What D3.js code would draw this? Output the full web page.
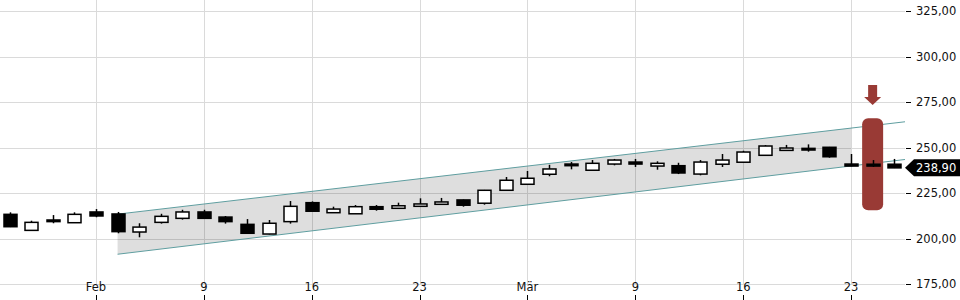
<!DOCTYPE html>
<html>
<head>
<meta charset="utf-8">
<script src="https://cdn.jsdelivr.net/npm/d3@7"></script>
<style>
body { margin: 0; background: #fff; }
svg { display: block; font-family: "DejaVu Sans", sans-serif; }
</style>
</head>
<body>
<svg id="chart" width="960" height="300"></svg>
<script>
// trading days
var dates = ['2015-01-27','2015-01-28','2015-01-29','2015-01-30',
    '2015-02-02','2015-02-03','2015-02-04','2015-02-05','2015-02-06',
    '2015-02-09','2015-02-10','2015-02-11','2015-02-12','2015-02-13',
    '2015-02-16','2015-02-17','2015-02-18','2015-02-19','2015-02-20',
    '2015-02-23','2015-02-24','2015-02-25','2015-02-26','2015-02-27',
    '2015-03-02','2015-03-03','2015-03-04','2015-03-05','2015-03-06',
    '2015-03-09','2015-03-10','2015-03-11','2015-03-12','2015-03-13',
    '2015-03-16','2015-03-17','2015-03-18','2015-03-19','2015-03-20',
    '2015-03-23','2015-03-24','2015-03-25'];
var open  = [213.4,204.6,210.3,208.8,214.7,213.6,203.7,209.0,211.2,214.7,211.9,207.9,202.6,209.4,219.8,214.3,213.7,217.6,216.7,217.8,218.9,
             221.3,219.5,226.6,229.9,235.4,241.0,237.6,241.0,242.1,239.9,240.1,235.5,240.9,242.0,245.8,248.5,249.6,250.2,241.0,240.9,240.9];
var high  = [214.5,209.9,213.0,214.5,216.3,214.7,208.5,213.7,215.9,215.9,212.5,210.8,210.3,220.7,220.5,217.6,218.5,218.5,219.8,222.2,222.4,
             221.5,226.8,233.9,237.2,240.6,242.1,243.2,243.8,243.8,242.5,241.7,243.2,246.5,248.3,251.4,251.5,251.8,250.4,246.5,243.2,243.8];
var low   = [206.4,204.5,208.5,208.7,211.8,203.0,200.8,208.3,210.5,211.0,208.3,202.8,202.4,208.3,215.0,214.2,213.6,215.4,216.6,217.7,218.8,
             217.6,218.7,226.5,229.8,234.3,238.1,237.5,240.3,239.4,237.9,235.5,234.8,239.4,241.9,245.7,248.4,247.8,244.5,239.8,239.4,238.8];
var close = [206.6,209.0,209.4,213.4,212.5,203.9,206.4,212.3,214.7,211.2,209.4,203.0,208.5,217.8,215.1,216.3,217.6,216.2,218.1,219.1,220.2,
             218.4,226.6,232.1,233.2,238.3,240.1,241.4,243.2,241.0,241.4,236.1,242.1,243.2,247.6,250.9,249.8,248.7,245.0,239.9,239.9,238.9];

var yTicks = [175, 200, 225, 250, 275, 300, 325];
var xTickIdx = [4, 9, 14, 19, 24, 29, 34, 39];
var xTickLabels = ['Feb', '9', '16', '23', 'Mär', '9', '16', '23'];

// trend channel (index, value)
var channelIdx = [5, 41.5];
var channelTop = [213.5, 264.2];
var channelBottom = [191.5, 243.5];
var channelFillEnd = 39;

// signal marker
var markerIdx = 40;
var markerRange = [215.7, 266.2];
var arrowRange = [273.4, 284.4];
var lastPrice = 238.90;

var fmt = function (v) { return v.toFixed(2).replace('.', ','); };

var plotRight = 905;
var x = d3.scaleLinear().domain([-0.45, 41.5]).range([0, plotRight]);
var y = d3.scaleLinear().domain([175, 325]).range([284.3, 11]);

var svg = d3.select('#chart');

// grid
var grid = svg.append('g');
grid.selectAll('.hg').data(yTicks).enter().append('line')
    .attr('x1', 0).attr('x2', plotRight)
    .attr('y1', function(d){ return Math.round(y(d)) + 0.5; })
    .attr('y2', function(d){ return Math.round(y(d)) + 0.5; })
    .attr('stroke', '#dadada').attr('stroke-width', 1);
grid.selectAll('.vg').data(xTickIdx).enter().append('line')
    .attr('x1', function(d){ return Math.round(x(d)) + 0.5; })
    .attr('x2', function(d){ return Math.round(x(d)) + 0.5; })
    .attr('y1', 0).attr('y2', 285)
    .attr('stroke', '#dadada').attr('stroke-width', 1);

// channel
var lineAt = function (vals, i) {
    var t = (i - channelIdx[0]) / (channelIdx[1] - channelIdx[0]);
    return vals[0] + t * (vals[1] - vals[0]);
};
var fillPts = [
    [x(channelIdx[0]), y(channelTop[0])],
    [x(channelFillEnd), y(lineAt(channelTop, channelFillEnd))],
    [x(channelFillEnd), y(lineAt(channelBottom, channelFillEnd))],
    [x(channelIdx[0]), y(channelBottom[0])]
];
svg.append('polygon')
    .attr('points', fillPts.map(function(p){ return p.join(','); }).join(' '))
    .attr('fill', 'rgba(0,0,0,0.13)');
[channelTop, channelBottom].forEach(function(vals){
    svg.append('line')
        .attr('x1', x(channelIdx[0])).attr('y1', y(vals[0]))
        .attr('x2', x(channelIdx[1])).attr('y2', y(vals[1]))
        .attr('stroke', '#5f9ea0').attr('stroke-width', 1);
});

// marker
var mc = x(markerIdx);
svg.append('rect')
    .attr('x', mc - 10.5).attr('width', 21)
    .attr('y', y(markerRange[1])).attr('height', y(markerRange[0]) - y(markerRange[1]))
    .attr('rx', 6).attr('ry', 6)
    .attr('fill', '#993a35');
var aTop = y(arrowRange[1]), aTip = y(arrowRange[0]);
svg.append('path')
    .attr('d', 'M' + (mc - 4.5) + ',' + aTop + 'H' + (mc + 4.5) + 'V' + (aTip - 8) +
        'H' + (mc + 8.5) + 'L' + mc + ',' + aTip + 'L' + (mc - 8.5) + ',' + (aTip - 8) +
        'H' + (mc - 4.5) + 'Z')
    .attr('fill', '#993a35');

// candles
var candles = svg.append('g').selectAll('g').data(dates).enter().append('g');
candles.append('line')
    .attr('x1', function(d, i){ return Math.round(x(i)) + 0.5; })
    .attr('x2', function(d, i){ return Math.round(x(i)) + 0.5; })
    .attr('y1', function(d, i){ return y(high[i]); })
    .attr('y2', function(d, i){ return y(low[i]); })
    .attr('stroke', '#000').attr('stroke-width', 1.5);
candles.append('rect')
    .attr('x', function(d, i){ return Math.round(x(i)) - 6; })
    .attr('width', 13)
    .attr('y', function(d, i){ return y(Math.max(open[i], close[i])); })
    .attr('height', function(d, i){ return Math.max(1, Math.abs(y(open[i]) - y(close[i]))); })
    .attr('fill', function(d, i){ return close[i] >= open[i] ? '#fff' : '#000'; })
    .attr('stroke', '#000').attr('stroke-width', 1.5);

// right axis
var ya = svg.append('g');
ya.selectAll('.yt').data(yTicks).enter().append('line')
    .attr('x1', 906).attr('x2', 911)
    .attr('y1', function(d){ return Math.round(y(d)) + 0.5; })
    .attr('y2', function(d){ return Math.round(y(d)) + 0.5; })
    .attr('stroke', '#000');
ya.selectAll('.yl').data(yTicks).enter().append('text')
    .attr('x', 916).attr('y', function(d){ return y(d); })
    .attr('dy', '0.36em')
    .attr('font-size', 11.5).attr('fill', '#111')
    .text(fmt);

// bottom axis
var xa = svg.append('g');
xa.selectAll('.xl').data(xTickIdx).enter().append('text')
    .attr('x', function(d){ return x(d); }).attr('y', 291)
    .attr('text-anchor', 'middle')
    .attr('font-size', 11.5).attr('fill', '#111')
    .text(function(d, i){ return xTickLabels[i]; });
xa.selectAll('.xt').data(xTickIdx).enter().append('line')
    .attr('x1', function(d){ return Math.round(x(d)) + 0.5; })
    .attr('x2', function(d){ return Math.round(x(d)) + 0.5; })
    .attr('y1', 295).attr('y2', 300)
    .attr('stroke', '#000');

// last price label
var ly = y(lastPrice);
svg.append('path')
    .attr('d', 'M905,' + ly + 'L914,' + (ly - 8.5) + 'H960V' + (ly + 8.5) + 'H914Z')
    .attr('fill', '#000');
svg.append('text')
    .attr('x', 916).attr('y', ly).attr('dy', '0.36em')
    .attr('font-size', 11.5).attr('fill', '#fff')
    .text(fmt(lastPrice));
</script>
</body>
</html>
